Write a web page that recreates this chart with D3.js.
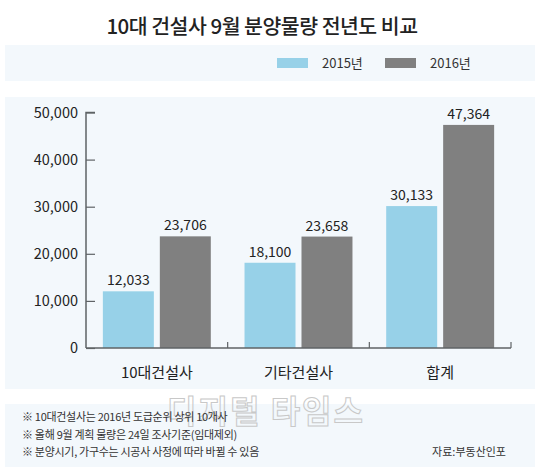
<!DOCTYPE html>
<html>
<head>
<meta charset="utf-8">
<script src="https://cdn.jsdelivr.net/npm/d3@7"></script>
<style>
  body { margin: 0; background: #fff; }
  svg { display: block; font-family: "Noto Sans CJK KR", "Noto Sans", sans-serif; }
</style>
</head>
<body>
<div id="chart"></div>
<script>
// DATA
const categories = ['10대건설사', '기타건설사', '합계'];
const seriesNames = ['2015년', '2016년'];
const values2015 = [12033, 18100, 30133];
const values2016 = [23706, 23658, 47364];
const yTicks = [0, 10000, 20000, 30000, 40000, 50000];
const notes = [
  '※ 10대건설사는 2016년 도급순위 상위 10개사',
  '※ 올해 9월 계획 물량은 24일 조사기준(임대제외)',
  '※ 분양시기, 가구수는 시공사 사정에 따라 바뀔 수 있음'
];
const source = '자료:부동산인포';

// SETTINGS
const width = 540;
const height = 474;
const colors = ['#97d1e8', '#808080'];
const panelColor = '#f3f8fc';
const axisColor = '#5f6366';
const textColor = '#222';

const svg = d3.select('#chart')
  .append('svg')
  .attr('width', width)
  .attr('height', height);

// TITLE
svg.append('text')
  .attr('x', 262)
  .attr('y', 34)
  .attr('text-anchor', 'middle')
  .attr('font-size', 20.5)
  .attr('font-weight', 500)
  .attr('fill', textColor)
  .attr('letter-spacing', -0.5)
  .text('10대 건설사 9월 분양물량 전년도 비교');

// PANELS
svg.append('rect').attr('x', 5).attr('y', 45).attr('width', 530).attr('height', 36).attr('fill', panelColor);
svg.append('rect').attr('x', 5).attr('y', 97).attr('width', 530).attr('height', 292).attr('fill', panelColor);
svg.append('rect').attr('x', 5).attr('y', 404).attr('width', 530).attr('height', 63).attr('fill', panelColor);

// LEGEND
const legendX = [277, 385];
const legend = svg.selectAll('.legend')
  .data(seriesNames)
  .enter()
  .append('g')
  .attr('class', 'legend')
  .attr('transform', (d, i) => `translate(${legendX[i]}, 58)`);

legend.append('rect')
  .attr('width', 31)
  .attr('height', 10)
  .attr('fill', (d, i) => colors[i]);

legend.append('text')
  .attr('x', 45)
  .attr('y', 10)
  .attr('font-size', 13)
  .attr('fill', '#333')
  .text(d => d);

// SCALES
const x0 = d3.scaleBand().domain(categories).range([86, 511]).padding(0);
const x1 = d3.scaleBand().domain(seriesNames).range([0, x0.bandwidth()])
  .paddingInner(0.105).paddingOuter(0.296);
const y = d3.scaleLinear().domain([0, 50000]).range([348, 112.5]);

// BARS
const data = categories.map((c, i) => ({ category: c, values: [values2015[i], values2016[i]] }));

const groups = svg.selectAll('.group')
  .data(data)
  .enter()
  .append('g')
  .attr('class', 'group')
  .attr('transform', d => `translate(${x0(d.category)}, 0)`);

const bars = groups.selectAll('.bar')
  .data(d => d.values.map((v, i) => ({ series: seriesNames[i], value: v, i })))
  .enter();

bars.append('rect')
  .attr('x', d => x1(d.series))
  .attr('y', d => y(d.value))
  .attr('width', x1.bandwidth())
  .attr('height', d => y(0) - y(d.value))
  .attr('fill', d => colors[d.i]);

bars.append('text')
  .attr('x', d => x1(d.series) + x1.bandwidth() / 2)
  .attr('y', d => y(d.value) - 6)
  .attr('text-anchor', 'middle')
  .attr('font-size', 14)
  .attr('fill', textColor)
  .text(d => d3.format(',')(d.value));

// Y AXIS
const yAxis = d3.axisRight(y)
  .tickValues(yTicks)
  .tickSize(9)
  .tickFormat(d3.format(','));

const yAxisGroup = svg.append('g')
  .attr('transform', 'translate(86, 0)')
  .call(yAxis);

yAxisGroup.select('.domain').attr('stroke', axisColor).attr('stroke-width', 1.5)
  .attr('d', `M9,${y(50000)}H0V${y(0)}`);
yAxisGroup.selectAll('.tick line').attr('stroke', axisColor).attr('stroke-width', 1.2);
yAxisGroup.selectAll('.tick text')
  .attr('x', -8)
  .attr('text-anchor', 'end')
  .attr('font-size', 14.5)
  .attr('font-family', '"Noto Sans CJK KR", sans-serif')
  .attr('fill', textColor);

// X AXIS
const xAxisGroup = svg.append('g')
  .attr('transform', `translate(0, ${y(0)})`);

xAxisGroup.append('line')
  .attr('x1', 86).attr('x2', 511)
  .attr('stroke', axisColor).attr('stroke-width', 1.5);

xAxisGroup.selectAll('.sep')
  .data(categories)
  .enter()
  .append('line')
  .attr('x1', d => x0(d) + x0.bandwidth())
  .attr('x2', d => x0(d) + x0.bandwidth())
  .attr('y1', 0).attr('y2', -6)
  .attr('stroke', axisColor).attr('stroke-width', 1.2);

xAxisGroup.selectAll('.cat')
  .data(categories)
  .enter()
  .append('text')
  .attr('x', d => x0(d) + x0.bandwidth() / 2)
  .attr('y', 30)
  .attr('text-anchor', 'middle')
  .attr('font-size', 15)
  .attr('fill', textColor)
  .text(d => d);

// WATERMARK (sits over the notes, as in the source image)
svg.append('text')
  .attr('x', 266)
  .attr('y', 423)
  .attr('text-anchor', 'middle')
  .attr('font-size', 32)
  .attr('font-weight', 700)
  .attr('letter-spacing', 2)
  .attr('fill', 'none')
  .attr('stroke', '#c8c8c8')
  .attr('stroke-width', 1)
  .text('디지털 타임스');

// NOTES
svg.selectAll('.note')
  .data(notes)
  .enter()
  .append('text')
  .attr('x', 22)
  .attr('y', (d, i) => 421 + i * 17.5)
  .attr('font-size', 11)
  .attr('fill', '#333')
  .attr('letter-spacing', -0.3)
  .text(d => d);

svg.append('text')
  .attr('x', 506)
  .attr('y', 456)
  .attr('text-anchor', 'end')
  .attr('font-size', 11)
  .attr('fill', '#333')
  .text(source);
</script>
</body>
</html>
